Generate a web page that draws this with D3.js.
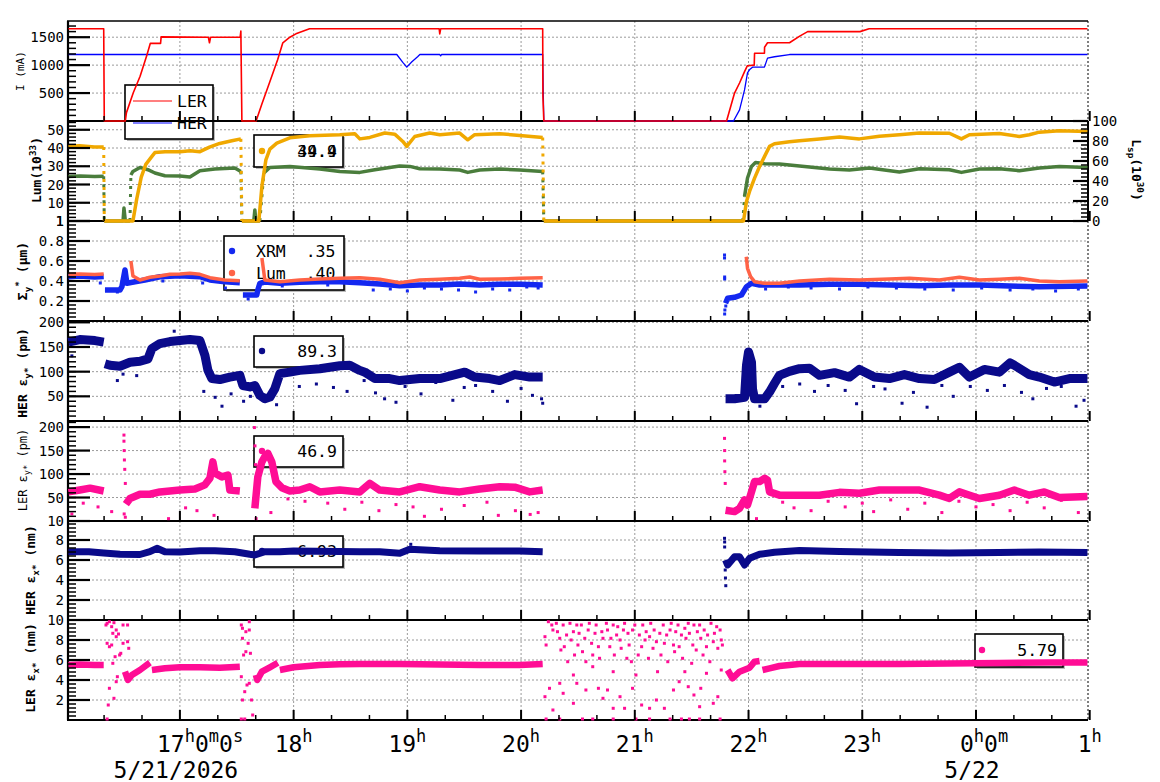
<!DOCTYPE html>
<html>
<head>
<meta charset="utf-8">
<script src="https://cdn.jsdelivr.net/npm/d3@7"></script>
<style>
  body { margin: 0; background: #fff; }
  svg { display: block; font-family: "DejaVu Sans Mono", monospace; }
</style>
</head>
<body>
<svg id="chart" width="1160" height="782"></svg>
<script>
// ---- data (time in hours since 5/21 0h, null = gap) ----

// beam currents (mA)
const lerCurrent = [[16.02,1650],[16.33,1650],[16.335,0],[16.52,0],[16.53,150],[16.59,505],[16.65,800],[16.71,1180],[16.74,1390],[16.83,1390],[16.835,1505],[17.25,1500],[17.26,1400],[17.27,1500],[17.53,1500],[17.536,1610],[17.545,0],[17.67,0],[17.72,300],[17.79,700],[17.86,1100],[17.905,1400],[17.967,1500],[18.02,1560],[18.14,1650],[19.28,1650],[19.285,1560],[19.293,1650],[20.19,1650],[20.192,440],[20.2,0],[21.807,0],[21.877,500],[21.921,680],[21.965,885],[21.99,990],[22.05,1000],[22.053,1214],[22.14,1214],[22.141,1320],[22.167,1400],[22.36,1400],[22.45,1520],[22.52,1600],[22.98,1600],[23.06,1650],[24.98,1650]];
const herCurrent = [[16.02,1190],[18.907,1190],[18.96,1050],[18.995,964],[19.04,1060],[19.09,1150],[19.11,1190],[19.285,1190],[19.293,1166],[19.30,1190],[20.19,1190],[20.195,500],[20.2,0],[21.868,0],[21.921,200],[21.965,557],[21.991,862],[22.01,920],[22.035,964],[22.14,964],[22.167,1125],[22.228,1150],[22.36,1190],[24.98,1190]];

// luminosity (10^33) and specific luminosity (10^30)
const lumData = [[16.02,41],[16.12,41.2],[16.25,40.6],[16.33,40.5],[16.33,null],
  [16.335,0],[16.587,0],[16.62,12],[16.66,24],[16.70,31],[16.754,35.4],[16.78,37.5],[16.87,38],[17.0,38],[17.09,38.5],[17.176,38],[17.26,40.5],[17.35,42.5],[17.457,44],[17.536,45],[17.54,null],
  [17.545,0],[17.694,0],[17.721,19],[17.756,33.5],[17.791,39.4],[17.852,42.7],[17.967,45.6],[18.142,46.7],[18.406,47.2],[18.538,47.8],[18.582,45],[18.67,45.8],[18.801,48.2],[18.889,47.6],[18.96,43.6],[18.995,40.9],[19.065,46.3],[19.197,48.2],[19.285,47.3],[19.46,48.2],[19.531,44.5],[19.592,47.3],[19.812,47.8],[19.988,46.9],[20.19,45.8],[20.195,null],
  [20.2,0],[21.956,0],[21.982,10.7],[22.009,16.2],[22.053,23.5],[22.097,29.9],[22.141,35.4],[22.185,40.9],[22.228,42.3],[22.36,43.4],[22.448,44],[22.624,45],[22.8,46],[22.975,45],[23.151,46.5],[23.327,47.3],[23.503,48.2],[23.766,48.1],[23.872,45],[23.942,47.3],[24.206,48],[24.381,46.3],[24.469,47.3],[24.557,48.7],[24.733,49.5],[24.98,49]];
const lspData = [[16.02,44.6],[16.12,45],[16.25,44.5],[16.33,44.8],[16.33,null],
  [16.335,0],[16.50,0],[16.508,13],[16.52,0],[16.561,0],[16.565,null],
  [16.569,46],[16.587,49.6],[16.649,53.6],[16.719,51.3],[16.78,48],[16.868,45.3],[17.0,45],[17.088,44],[17.176,50.3],[17.308,52],[17.483,53],[17.536,49.6],[17.54,null],
  [17.545,0],[17.65,0],[17.659,11],[17.668,0],[17.703,0],[17.71,null],
  [17.738,48],[17.791,53.6],[17.967,54.6],[18.23,52],[18.406,49.6],[18.582,48.6],[18.714,51.3],[18.933,55],[19.021,54.6],[19.109,52.3],[19.285,52],[19.46,51],[19.531,48.6],[19.636,51],[19.812,52],[19.988,51],[20.19,49.6],[20.195,null],
  [20.2,0],[21.95,0],[21.96,null],
  [21.965,24.6],[21.991,43],[22.026,54.6],[22.061,58.6],[22.141,57.3],[22.272,57],[22.448,55],[22.712,52],[22.887,51],[23.063,53],[23.327,49],[23.503,52.3],[23.766,51.3],[23.872,48.6],[24.03,52],[24.206,52.3],[24.381,50.3],[24.557,53],[24.733,54.6],[24.98,53.6]];

// vertical beam size at IP (um)
const sigmaLum = [[16.02,0.467],[16.12,0.47],[16.25,0.465],[16.33,0.47],[16.4,null],
  [16.569,0.60],[16.587,0.45],[16.649,0.41],[16.736,0.437],[16.824,0.45],[16.912,0.467],[17.0,0.47],[17.088,0.477],[17.176,0.467],[17.264,0.433],[17.395,0.41],[17.527,0.403],[17.6,null],
  [17.721,0.63],[17.747,0.41],[17.879,0.393],[18.054,0.41],[18.23,0.42],[18.406,0.427],[18.582,0.433],[18.757,0.417],[18.933,0.383],[19.109,0.41],[19.285,0.417],[19.46,0.427],[19.548,0.44],[19.636,0.417],[19.812,0.42],[19.988,0.427],[20.19,0.433],[21,null],
  [21.98,0.643],[21.991,0.527],[22.018,0.443],[22.053,0.393],[22.141,0.377],[22.272,0.377],[22.448,0.40],[22.712,0.417],[22.975,0.41],[23.239,0.42],[23.415,0.427],[23.678,0.41],[23.854,0.437],[24.03,0.41],[24.206,0.417],[24.381,0.427],[24.557,0.40],[24.733,0.393],[24.98,0.40]];
const sigmaXrm = [[16.02,0.443],[16.12,0.45],[16.25,0.44],[16.33,0.445],[16.335,null],
  [16.341,0.31],[16.473,0.31],[16.49,0.343],[16.517,0.51],[16.534,0.377],[16.605,0.393],[16.692,0.41],[16.824,0.443],[17.0,0.453],[17.176,0.443],[17.264,0.41],[17.395,0.393],[17.527,0.383],[17.54,null],
  [17.554,0.26],[17.676,0.26],[17.685,0.31],[17.703,0.377],[17.747,0.39],[17.879,0.377],[18.054,0.387],[18.23,0.393],[18.406,0.393],[18.582,0.383],[18.757,0.37],[18.933,0.353],[19.109,0.36],[19.285,0.36],[19.46,0.37],[19.636,0.36],[19.812,0.367],[19.988,0.367],[20.19,0.36],[21,null],
  [21.798,0.177],[21.816,0.227],[21.877,0.237],[21.938,0.26],[21.982,0.343],[22.026,0.377],[22.097,0.36],[22.272,0.36],[22.448,0.36],[22.712,0.367],[22.975,0.367],[23.239,0.36],[23.503,0.353],[23.766,0.36],[24.03,0.36],[24.293,0.35],[24.557,0.343],[24.98,0.35]];
const xrmOutliers = [[16.3,0.38],[16.45,0.29],[16.85,0.4],[17.2,0.38],[17.4,0.33],[17.6,0.22],[17.9,0.35],[18.3,0.36],[18.7,0.31],[18.85,0.32],[19.0,0.3],[19.15,0.33],[19.3,0.32],[19.45,0.31],[19.6,0.29],[19.75,0.32],[19.9,0.31],[20.05,0.34],[20.15,0.33],[21.789,0.66],[21.789,0.63],[21.79,0.44],[21.79,0.42],[21.79,0.07],[21.792,0.11],[21.8,0.15],[22.15,0.32],[22.35,0.34],[22.55,0.33],[22.8,0.32],[23.05,0.34],[23.3,0.33],[23.55,0.32],[23.8,0.31],[24.05,0.33],[24.3,0.31],[24.5,0.32],[24.7,0.3],[24.9,0.32]];

// HER vertical emittance (pm)
const herEy = [[16.02,160],[16.12,165],[16.253,163],[16.33,160],[16.335,null],
  [16.341,116],[16.385,113],[16.473,111],[16.561,119],[16.649,121],[16.719,126],[16.754,147],[16.824,157],[16.912,161],[17.0,163],[17.088,165],[17.176,163],[17.22,133],[17.246,103],[17.281,86],[17.351,84],[17.439,89],[17.527,92.5],[17.554,72],[17.615,69],[17.659,72],[17.703,52],[17.747,45],[17.791,48.5],[17.835,65.5],[17.879,96],[17.967,99],[18.054,102.6],[18.23,106],[18.406,112],[18.494,113],[18.582,102.6],[18.626,99],[18.714,86],[18.845,86],[18.933,82],[19.109,86],[19.285,86],[19.504,99],[19.592,89],[19.724,86],[19.812,82],[19.944,94],[20.076,89],[20.19,89],[21,null],
  [21.798,45],[21.877,45],[21.965,48],[21.982,113],[22.0,140],[22.026,119],[22.035,65],[22.053,45],[22.141,45],[22.185,59],[22.228,76],[22.272,92.5],[22.36,100.6],[22.448,106],[22.536,107],[22.624,92.5],[22.756,98],[22.887,89],[22.975,104.6],[23.107,89],[23.239,86],[23.371,94],[23.503,86],[23.634,84],[23.766,99],[23.854,109],[23.942,89],[24.074,104.6],[24.206,99],[24.30,118],[24.337,113],[24.469,94],[24.557,89],[24.689,79],[24.821,86],[24.98,86]];
const herEyOutliers = [[16.05,132],[16.45,82],[16.5,95],[16.62,92],[16.95,182],[17.21,60],[17.31,48],[17.37,30],[17.45,55],[17.56,40],[17.62,50],[17.85,33],[18.05,70],[18.2,75],[18.35,68],[18.47,60],[18.62,82],[18.72,57],[18.8,45],[18.9,38],[18.98,70],[19.12,55],[19.25,78],[19.4,42],[19.5,68],[19.6,72],[19.75,60],[19.88,40],[20.0,66],[20.1,52],[20.18,45],[20.19,36],[22.1,30],[22.3,70],[22.45,75],[22.58,60],[22.7,72],[22.85,62],[22.95,35],[23.1,70],[23.2,65],[23.35,36],[23.45,58],[23.57,28],[23.7,72],[23.8,50],[23.95,70],[24.1,62],[24.25,72],[24.4,58],[24.5,45],[24.62,66],[24.75,70],[24.88,30],[24.95,42]];

// LER vertical emittance (pm)
const lerEy = [[16.02,62],[16.12,66],[16.21,70],[16.33,64],[16.4,null],
  [16.525,36],[16.561,48],[16.649,57],[16.736,57],[16.824,62],[16.912,64],[17.0,66],[17.132,68],[17.22,77],[17.264,91],[17.29,126],[17.308,102],[17.369,94],[17.422,98],[17.439,66],[17.527,64],[17.6,null],
  [17.659,27],[17.685,94],[17.721,126],[17.747,137],[17.773,144],[17.808,126],[17.844,84],[17.896,71],[17.967,64],[18.054,66],[18.142,73],[18.23,62],[18.406,66],[18.582,62],[18.67,80],[18.757,66],[18.933,62],[19.109,73],[19.285,66],[19.46,62],[19.636,68],[19.812,73],[19.944,72],[20.076,62],[20.19,66],[21,null],
  [21.798,23],[21.877,20],[21.921,27],[21.965,45],[21.991,34],[22.026,62],[22.053,84],[22.097,84],[22.141,91],[22.167,87],[22.185,62],[22.272,55],[22.448,55],[22.624,55],[22.8,61],[22.975,59],[23.151,66],[23.327,66],[23.503,66],[23.678,55],[23.766,48],[23.854,62],[24.03,48],[24.206,55],[24.337,66],[24.469,55],[24.601,62],[24.733,50],[24.98,52]];
const lerEyOutliers = [[16.05,15],[16.15,38],[16.28,30],[16.4,20],[16.508,183],[16.508,170],[16.51,150],[16.512,130],[16.515,110],[16.52,80],[16.51,15],[16.52,8],[16.9,5],[17.05,28],[17.15,22],[17.3,12],[17.655,199],[17.66,160],[17.665,120],[17.67,60],[17.67,5],[17.8,18],[17.95,47],[18.1,42],[18.3,38],[18.45,25],[18.6,40],[18.75,22],[18.9,35],[19.05,30],[19.15,10],[19.3,25],[19.5,33],[19.7,40],[19.8,12],[19.95,22],[20.08,14],[20.15,18],[21.789,176],[21.79,150],[21.79,128],[21.792,105],[21.795,80],[22.07,5],[22.3,40],[22.4,28],[22.55,22],[22.7,42],[22.85,30],[23.0,38],[23.1,20],[23.25,45],[23.4,25],[23.55,38],[23.7,18],[23.85,42],[24.0,30],[24.15,35],[24.3,22],[24.45,40],[24.6,28],[24.75,44],[24.9,18]];

// HER horizontal emittance (nm)
const herEx = [[16.02,6.83],[16.2,6.82],[16.33,6.7],[16.473,6.57],[16.649,6.55],[16.736,6.83],[16.798,7.17],[16.868,6.83],[17.0,6.8],[17.176,6.93],[17.308,6.93],[17.483,6.83],[17.615,6.57],[17.659,6.5],[17.747,6.83],[17.879,6.83],[18.0,6.9],[18.406,6.85],[18.582,6.83],[18.757,6.83],[18.933,6.67],[19.021,7.07],[19.285,6.93],[19.636,6.9],[19.988,6.9],[20.19,6.83],[21,null],
  [21.798,6.0],[21.816,5.5],[21.877,6.33],[21.921,6.33],[21.965,5.5],[22.009,6.17],[22.097,6.57],[22.228,6.77],[22.448,6.95],[22.8,6.85],[23.327,6.75],[23.766,6.7],[24.206,6.75],[24.557,6.8],[24.98,6.75]];
const herExOutliers = [[19.03,7.57],[21.789,8.17],[21.79,7.8],[21.79,7.3],[21.795,5.0],[21.797,4.2],[21.8,3.43]];

// LER horizontal emittance (nm)
const lerEx = [[16.02,5.5],[16.12,5.55],[16.25,5.5],[16.33,5.5],[16.4,null],
  [16.517,4.83],[16.543,4.0],[16.578,4.5],[16.649,5.0],[16.736,5.73],[16.745,null],
  [16.754,5.0],[16.868,5.17],[17.0,5.27],[17.176,5.27],[17.351,5.23],[17.527,5.33],[17.6,null],
  [17.668,4.5],[17.68,4.0],[17.721,4.83],[17.791,5.27],[17.861,5.73],[17.87,null],
  [17.879,5.0],[18.0,5.27],[18.23,5.5],[18.406,5.57],[18.582,5.6],[18.933,5.6],[19.285,5.55],[19.636,5.5],[19.988,5.5],[20.19,5.6],[21,null],
  [21.816,5.0],[21.859,4.17],[21.921,4.83],[22.009,5.23],[22.053,5.83],[22.097,5.9],[22.11,null],
  [22.123,5.0],[22.185,5.17],[22.272,5.4],[22.448,5.6],[22.887,5.6],[23.327,5.6],[23.766,5.65],[24.206,5.7],[24.645,5.75],[24.98,5.75]];
const lerExScatter = [
  [16.35,9.5],[16.36,9.67],[16.38,9.83],[16.40,9.33],[16.42,9.73],[16.44,9.0],[16.36,7.67],[16.38,7.33],[16.40,7.5],[16.41,8.67],[16.44,8.33],[16.46,8.6],[16.48,6.67],[16.50,7.67],[16.54,7.83],[16.55,7.17],[16.54,9.5],[16.50,9.5],[16.38,3.17],[16.37,1.5],[16.42,2.17],[16.44,3.83],[16.45,4.33],[16.41,5.67],[16.47,6.5],[16.43,6.33],[16.36,0.1],
  [17.54,9.5],[17.55,9.17],[17.58,8.83],[17.61,9.0],[17.61,9.83],[17.55,8.17],[17.6,7.67],[17.58,6.83],[17.62,6.67],[17.56,6.5],[17.54,4.33],[17.59,3.5],[17.57,2.83],[17.55,2.0],[17.63,2.0],[17.61,3.67],[17.64,0.5],[17.54,0.1],[17.57,0.1],
  [20.21,8.33],[20.22,7.5],[20.24,9.83],[20.27,9.5],[20.28,9.0],[20.31,9.67],[20.32,8.83],[20.34,8.17],[20.35,7.0],[20.37,9.5],[20.38,7.33],[20.40,8.5],[20.41,5.83],[20.43,9.67],[20.44,8.0],[20.46,8.83],[20.47,6.5],[20.49,9.5],[20.50,7.5],[20.51,8.67],[20.53,9.5],[20.54,6.83],[20.56,8.17],[20.57,5.83],[20.59,9.0],[20.60,9.67],[20.62,7.67],[20.63,6.5],[20.65,8.67],[20.66,9.5],[20.68,7.33],[20.69,6.17],[20.71,8.83],[20.72,8.17],[20.75,9.67],[20.76,9.0],[20.78,7.33],[20.79,8.17],[20.81,9.5],[20.82,6.5],[20.84,8.5],[20.85,9.33],[20.87,8.0],[20.88,7.17],[20.90,9.0],[20.91,9.67],[20.93,6.17],[20.94,8.67],[20.95,7.5],[20.97,5.83],[20.98,9.0],[21.00,9.5],[21.03,6.5],[21.04,8.5],[21.06,7.33],[21.07,9.5],[21.09,8.0],[21.10,8.83],[21.12,6.17],[21.13,8.33],[21.14,9.67],[21.16,7.17],[21.17,9.0],[21.19,7.83],[21.22,8.67],[21.23,6.5],[21.25,9.5],[21.26,7.67],[21.28,8.5],[21.29,5.83],[21.31,9.0],[21.32,9.67],[21.34,7.5],[21.35,6.83],[21.36,8.83],[21.38,9.5],[21.39,7.33],[21.41,8.5],[21.42,6.17],[21.44,9.17],[21.45,8.17],[21.47,9.67],[21.48,8.67],[21.50,5.67],[21.51,7.5],[21.52,9.5],[21.54,7.0],[21.55,8.83],[21.57,9.5],[21.58,8.17],[21.60,6.5],[21.61,9.0],[21.63,7.33],[21.64,8.5],[21.66,5.83],[21.67,9.67],[21.69,7.83],[21.70,8.67],[21.72,9.33],[21.73,7.17],[21.75,9.0],[21.76,8.0],[21.77,7.5],
  [20.25,3.17],[20.28,1.0],[20.37,2.67],[20.46,1.67],[20.49,3.67],[20.57,3.0],[20.68,3.17],[20.72,2.17],[20.76,3.0],[20.81,1.17],[20.87,2.33],[20.91,1.17],[20.98,3.17],[21.06,1.5],[21.13,1.17],[21.19,2.0],[21.26,1.17],[21.34,3.0],[21.39,3.83],[21.47,3.33],[21.52,2.5],[21.57,1.33],[21.58,3.17],[21.69,1.67],[21.73,2.33],[20.21,2.33],[20.34,3.67],[20.46,4.5],[20.63,5.33],[20.81,4.83],[21.01,4.5],[21.20,4.83],[21.44,4.83],[21.63,4.67],[21.76,5.0],
  [20.22,0.1],[20.34,0.1],[20.54,0.1],[20.63,0.1],[20.81,0.1],[21.01,0.1],[21.13,0.1],[21.31,0.1],[21.41,0.1],[21.48,0.1],[21.57,0.1],[21.75,0.1]];

// legend values
const lumLegendValues = ["44.4", "39.9"];
const xrmLegend = "XRM  .35";
const lumSigmaLegend = "Lum  .40";
const herEyLegend = "89.3";
const lerEyLegend = "46.9";
const herExLegend = "6.93";
const lerExLegend = "5.79";

// axis ticks
const iTicks = [500, 1000, 1500];
const lumTicks = [0, 10, 20, 30, 40, 50];
const lumTickLabels = ["1", "10", "20", "30", "40", "50"];
const lspTicks = [0, 20, 40, 60, 80, 100];
const sigmaTicks = [0.2, 0.4, 0.6, 0.8, 1];
const sigmaTickLabels = ["0.2", "0.4", "0.6", "0.8", "1"];
const herEyTicks = [50, 100, 150, 200];
const lerEyTicks = [0, 50, 100, 150, 200];
const lerEyTickLabels = ["10", "50", "100", "150", "200"];
const herExTicks = [2, 4, 6, 8];
const lerExTicks = [2, 4, 6, 8, 10];
const hourTicks = [17, 18, 19, 20, 21, 22, 23, 24, 25];
const hourTickLabels = [
  [["17"], ["h", 1], ["0"], ["m", 1], ["0"], ["s", 1]],
  [["18"], ["h", 1]], [["19"], ["h", 1]], [["20"], ["h", 1]], [["21"], ["h", 1]],
  [["22"], ["h", 1]], [["23"], ["h", 1]],
  [["0"], ["h", 1], ["0"], ["m", 1]],
  [["1"], ["h", 1]]
];
const dateTicks = [17, 24];
const dateLabels = ["5/21/2026", "5/22"];

// ---- layout ----
const left = 68, right = 1088;
const edges = [21, 121, 221, 321, 421, 521, 620, 720];
const svg = d3.select("#chart");

const x = d3.scaleLinear().domain([16.016, 24.985]).range([left, right]);
const yI = d3.scaleLinear().domain([0, 1790]).range([edges[1], edges[0]]);
const yLum = d3.scaleLinear().domain([0, 54.8]).range([edges[2], edges[1]]);
const yLsp = d3.scaleLinear().domain([0, 100]).range([edges[2], edges[1]]);
const ySig = d3.scaleLinear().domain([0, 1]).range([edges[3], edges[2]]);
const yHerEy = d3.scaleLinear().domain([0, 202.7]).range([edges[4], edges[3]]);
const yLerEy = d3.scaleLinear().domain([0, 213]).range([edges[5], edges[4]]);
const yHerEx = d3.scaleLinear().domain([0, 9.9]).range([edges[6], edges[5]]);
const yLerEx = d3.scaleLinear().domain([0, 10]).range([edges[7], edges[6]]);

const panels = [
  { y: yI, ticks: iTicks, labels: iTicks.map(String), minor: 100 },
  { y: yLum, ticks: lumTicks, labels: lumTickLabels, minor: 2 },
  { y: ySig, ticks: sigmaTicks, labels: sigmaTickLabels, minor: 0.04 },
  { y: yHerEy, ticks: herEyTicks, labels: herEyTicks.map(String), minor: 10 },
  { y: yLerEy, ticks: lerEyTicks, labels: lerEyTickLabels, minor: 10 },
  { y: yHerEx, ticks: herExTicks, labels: herExTicks.map(String), minor: 0.4 },
  { y: yLerEx, ticks: lerExTicks, labels: lerExTicks.map(String), minor: 0.4 }
];

// rich text helper: parts = [text, 1 for superscript | 2 for subscript]
function rich(sel, parts, size, supSize) {
  let shift = 0;
  parts.forEach(p => {
    const kind = p[1] || 0;
    const target = kind === 1 ? -0.42 * size : kind === 2 ? 0.28 * size : 0;
    sel.append("tspan")
      .attr("dy", target - shift)
      .attr("font-size", kind ? (supSize || size * 0.72) : size)
      .text(p[0]);
    shift = target;
  });
  return sel;
}

// ---- grid ----
const grid = svg.append("g").attr("stroke", "#9a9a9a").attr("stroke-width", 1).attr("stroke-dasharray", "2,2");
hourTicks.slice(0, -1).forEach(h => {
  grid.append("line").attr("x1", x(h)).attr("x2", x(h)).attr("y1", edges[0]).attr("y2", edges[7]);
});
panels.forEach((p, i) => {
  p.ticks.forEach(t => {
    const yy = p.y(t);
    if (yy < edges[i + 1] - 1 && yy > edges[i] + 0.5) {
      grid.append("line").attr("x1", left).attr("x2", right).attr("y1", yy).attr("y2", yy);
    }
  });
});

// ---- legend boxes (white, under the data) ----
const legend = svg.append("g");
function box(x0, y0, w, h) {
  legend.append("rect").attr("x", x0 + 2).attr("y", y0 + 2).attr("width", w).attr("height", h).attr("fill", "#bbb");
  legend.append("rect").attr("x", x0).attr("y", y0).attr("width", w).attr("height", h)
    .attr("fill", "#fff").attr("stroke", "#000").attr("stroke-width", 1.6);
}
function dot(cx, cy, c) {
  legend.append("circle").attr("cx", cx).attr("cy", cy).attr("r", 3.2).attr("fill", c);
}
function ltext(tx, ty, t, anchor) {
  legend.append("text").attr("x", tx).attr("y", ty).attr("font-size", 16.5)
    .attr("text-anchor", anchor || "end").style("white-space", "pre").text(t);
}
box(125, 85, 88, 54);
legend.append("line").attr("x1", 133).attr("x2", 172).attr("y1", 101).attr("y2", 101).attr("stroke", "#ff0000").attr("stroke-width", 1.2);
legend.append("line").attr("x1", 133).attr("x2", 172).attr("y1", 123).attr("y2", 123).attr("stroke", "#0000ff").attr("stroke-width", 1.2);
ltext(177, 107, "LER", "start");
ltext(177, 129, "HER", "start");
box(254, 135, 89, 32); dot(262, 151, "#f0a800");
lumLegendValues.forEach(v => ltext(337, 157, v));
box(224, 236, 120, 54); dot(232, 251, "#1428f0"); dot(232, 273, "#ff6347");
ltext(256, 257, xrmLegend, "start"); ltext(256, 279, lumSigmaLegend, "start");
box(254, 336, 89, 31); dot(262, 351, "#0a0a8a"); ltext(337, 357, herEyLegend);
box(254, 436, 89, 31); dot(262, 451, "#ff0d95"); ltext(337, 457, lerEyLegend);
box(254, 536, 89, 31); dot(262, 551, "#0a0a8a"); ltext(337, 557, herExLegend);
box(975, 634, 88, 33); dot(982, 650, "#ff0d95"); ltext(1057, 656, lerExLegend);

// ---- frames ----
const frame = svg.append("g").attr("stroke", "#000");
edges.forEach((e, i) => {
  frame.append("line").attr("x1", left - 1).attr("x2", right).attr("y1", e).attr("y2", e).attr("stroke-width", i === 0 ? 1.5 : 2.2);
});
frame.append("line").attr("x1", left).attr("x2", left).attr("y1", edges[0]).attr("y2", edges[7]).attr("stroke-width", 2.2);
frame.append("line").attr("x1", right).attr("x2", right).attr("y1", edges[0]).attr("y2", edges[7])
  .attr("stroke-width", 1).attr("stroke-dasharray", "2,2");
frame.append("line").attr("x1", right).attr("x2", right).attr("y1", edges[1]).attr("y2", edges[2]).attr("stroke-width", 2);

// ---- data ----
const gData = svg.append("g");
function series(data, y, color, width, dottedGaps) {
  const line = d3.line().defined(d => d[1] !== null).x(d => x(d[0])).y(d => y(d[1]));
  gData.append("path").datum(data).attr("d", line).attr("fill", "none")
    .attr("stroke", color).attr("stroke-width", width).attr("stroke-linejoin", "round");
  if (dottedGaps) {
    data.forEach((d, i) => {
      if (d[1] === null && i > 0 && i < data.length - 1) {
        const a = data[i - 1], b = data[i + 1];
        gData.append("line").attr("x1", x(a[0])).attr("y1", y(a[1])).attr("x2", x(b[0])).attr("y2", y(b[1]))
          .attr("stroke", color).attr("stroke-width", 3).attr("stroke-dasharray", "3,5");
      }
    });
  }
}
function points(data, y, color, s) {
  gData.append("g").attr("fill", color).selectAll("rect").data(data).join("rect")
    .attr("x", d => x(d[0]) - s / 2).attr("y", d => y(d[1]) - s / 2).attr("width", s).attr("height", s);
}

series(herCurrent, yI, "#0000ff", 1.3);
series(lerCurrent, yI, "#ff0000", 1.6);
series(lspData, yLsp, "#4a7d3c", 3.5, true);
series(lumData, yLum, "#f0a800", 3.5, true);
points(xrmOutliers, ySig, "#1428f0", 3);
series(sigmaXrm, ySig, "#1428f0", 5.5);
series(sigmaLum, ySig, "#ff6347", 3.5);
points(herEyOutliers, yHerEy, "#0a0a8a", 3);
series(herEy, yHerEy, "#0a0a8a", 9);
points(lerEyOutliers, yLerEy, "#ff0d95", 3);
series(lerEy, yLerEy, "#ff0d95", 7.5);
points(herExOutliers, yHerEx, "#0a0a8a", 3);
series(herEx, yHerEx, "#0a0a8a", 7);
points(lerExScatter, yLerEx, "#ff0d95", 3);
series(lerEx, yLerEx, "#ff0d95", 6.5);

// ---- ticks ----
const tk = svg.append("g").attr("stroke", "#000");
const minorHours = d3.range(16 + 1 / 3, 25, 1 / 3).filter(h => Math.abs(h - Math.round(h)) > 0.01 && x(h) > left + 2);
edges.slice(1).forEach(e => {
  hourTicks.forEach(h => tk.append("line").attr("x1", x(h)).attr("x2", x(h)).attr("y1", e).attr("y2", e - 10).attr("stroke-width", 2));
  minorHours.forEach(h => tk.append("line").attr("x1", x(h)).attr("x2", x(h)).attr("y1", e).attr("y2", e - 5).attr("stroke-width", 1.5));
});
const labels = svg.append("g").attr("font-size", 14).attr("text-anchor", "end").attr("dominant-baseline", "central");
panels.forEach((p, i) => {
  const [d0, d1] = p.y.domain();
  d3.range(d0, d1, p.minor).forEach(v => {
    const yy = p.y(v);
    if (yy > edges[i] + 1 && yy < edges[i + 1] - 1)
      tk.append("line").attr("x1", left).attr("x2", left + 8).attr("y1", yy).attr("y2", yy).attr("stroke-width", 1.5);
  });
  p.ticks.forEach((t, j) => {
    const yy = p.y(t);
    tk.append("line").attr("x1", left).attr("x2", left + 22).attr("y1", yy).attr("y2", yy).attr("stroke-width", 2.2);
    labels.append("text").attr("x", 64).attr("y", yy).text(p.labels[j]);
  });
});
// right axis of luminosity panel
d3.range(0, 100, 4).forEach(v => {
  tk.append("line").attr("x1", right).attr("x2", right - 7).attr("y1", yLsp(v)).attr("y2", yLsp(v)).attr("stroke-width", 1.5);
});
lspTicks.forEach(t => {
  tk.append("line").attr("x1", right).attr("x2", right - 15).attr("y1", yLsp(t)).attr("y2", yLsp(t)).attr("stroke-width", 2.2);
  labels.append("text").attr("x", 1092).attr("y", yLsp(t)).attr("text-anchor", "start").text(t);
});

// ---- x labels ----
const xl = svg.append("g");
hourTicks.forEach((h, i) => {
  const parts = hourTickLabels[i];
  const t = xl.append("text").attr("y", 752);
  rich(t, parts, 23, 17);
  const w = t.node().getComputedTextLength();
  let x0 = x(h) - w / 2;
  if (parts.length > 2) {
    const first = parts[0][0].length * 13.85 + 10.2;
    x0 = x(h) - first / 2 - 4;
  }
  t.attr("x", x0);
});
dateTicks.forEach((h, i) => {
  xl.append("text").attr("x", x(h) - 4).attr("y", 778).attr("font-size", 23)
    .attr("text-anchor", "middle").text(dateLabels[i]);
});

// ---- axis titles ----
const titles = [
  { parts: [["I (mA)"]], bx: 24, cy: 71, size: 11, weight: "normal" },
  { parts: [["Lum(10"], ["33", 1], [")"]], bx: 41, cy: 170, size: 13, weight: "bold" },
  { parts: [["Σ"], ["y", 2], ["*", 1], [" (μm)"]], bx: 27, cy: 271, size: 13, weight: "bold" },
  { parts: [["HER ε"], ["y*", 2], [" (pm)"]], bx: 27, cy: 373, size: 13, weight: "bold" },
  { parts: [["LER ε"], ["y*", 2], [" (pm)"]], bx: 27, cy: 470, size: 12, weight: "normal" },
  { parts: [["HER ε"], ["x*", 2], [" (nm)"]], bx: 35, cy: 570, size: 13, weight: "bold" },
  { parts: [["LER ε"], ["x*", 2], [" (nm)"]], bx: 35, cy: 668, size: 13, weight: "bold" }
];
titles.forEach(tt => {
  const t = svg.append("text").attr("text-anchor", "middle").attr("font-weight", tt.weight)
    .attr("transform", `translate(${tt.bx},${tt.cy}) rotate(-90)`);
  rich(t, tt.parts, tt.size);
});
const rt = svg.append("text").attr("text-anchor", "middle").attr("font-weight", "bold")
  .attr("transform", "translate(1132,170) rotate(90)");
rich(rt, [["L"], ["sp", 2], ["(10"], ["30", 1], [")"]], 13);
</script>
</body>
</html>
